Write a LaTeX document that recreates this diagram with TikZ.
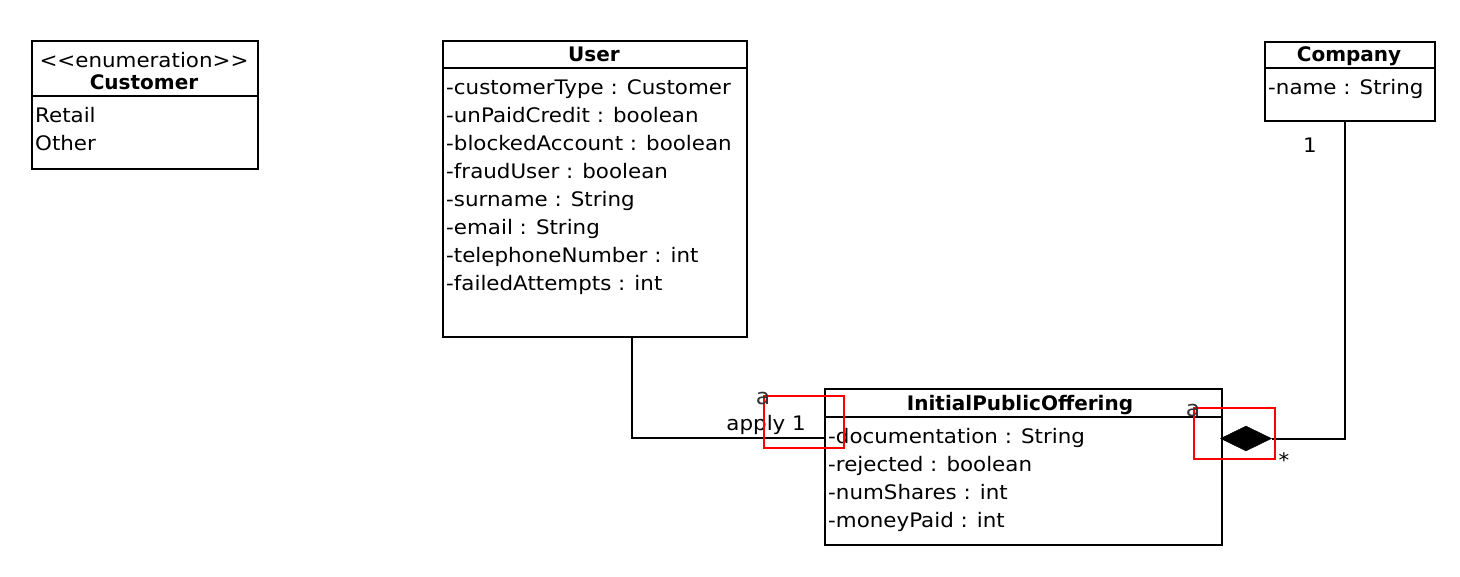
\documentclass[tikz,border=0pt]{standalone}
\usepackage{fontspec}
\setmainfont{DejaVu Sans}[UprightFeatures={FakeStretch=1.07}]
\usetikzlibrary{shapes.geometric}
\begin{document}
\begin{tikzpicture}[x=1pt,y=-1pt,
  box/.style={draw, line width=1.8pt, anchor=north west, inner sep=0pt},
  sep/.style={line width=1.8pt},
  txt/.style={anchor=base west, inner sep=0pt, font=\fontsize{20}{24}\selectfont},
  ttl/.style={anchor=base, inner sep=0pt, font=\fontsize{20}{24}\selectfont\bfseries},
  lbl/.style={inner sep=0pt, font=\fontsize{20}{24}\selectfont},
  conn/.style={line width=2pt},
  redbox/.style={draw=red, line width=1.6pt},
  amark/.style={inner sep=0pt, text=black!80, font=\fontsize{22}{24}\selectfont}
]
\useasboundingbox (0,0) rectangle (1460,576);

% Customer enumeration
\node[box, minimum width=226pt, minimum height=128pt] (cust) at (31,40) {};
\draw[sep] (31,96) -- (257,96);
\node[lbl, anchor=base] (custst) at (144,67) {{<}{<}enumeration{>}{>}};
\node[ttl] (custt) at (144,89) {Customer};
\node[txt] (c1) at (35,122) {Retail};
\node[txt] (c2) at (35,150) {Other};

% User
\node[box, minimum width=304pt, minimum height=296pt] (user) at (442,40) {};
\draw[sep] (442,68) -- (746,68);
\node[ttl] (usert) at (594,61) {User};
\node[txt] (u1) at (446,94) {-customerType : Customer};
\node[txt] (u2) at (446,122) {-unPaidCredit : boolean};
\node[txt] (u3) at (446,150) {-blockedAccount : boolean};
\node[txt] (u4) at (446,178) {-fraudUser : boolean};
\node[txt] (u5) at (446,206) {-surname : String};
\node[txt] (u6) at (446,234) {-email : String};
\node[txt] (u7) at (446,262) {-telephoneNumber : int};
\node[txt] (u8) at (446,290) {-failedAttempts : int};

% Company
\node[box, minimum width=170pt, minimum height=79pt] (comp) at (1264,41) {};
\draw[sep] (1264,68) -- (1434,68);
\node[ttl] (compt) at (1349,61) {Company};
\node[txt] (cp1) at (1268,94) {-name : String};

% InitialPublicOffering
\node[box, minimum width=397pt, minimum height=156pt] (ipo) at (824,388) {};
\draw[sep] (824,417) -- (1221,417);
\node[ttl] (ipot) at (1020,410) {InitialPublicOffering};
\node[txt] (i1) at (828,443) {-documentation : String};
\node[txt] (i2) at (828,471) {-rejected : boolean};
\node[txt] (i3) at (828,499) {-numShares : int};
\node[txt] (i4) at (828,527) {-moneyPaid : int};

% User -- IPO association
\coordinate (ua) at (632,336);
\coordinate (ia) at (824,438);
\draw[conn] (ua) |- (ia);
\node[lbl, anchor=base east] (apply) at (806,430) {apply 1};

% Company -- IPO composition
\node[diamond, fill=black, draw=black, inner sep=0pt, minimum width=51pt, minimum height=25pt] (dia) at (1246,438.5) {};
\coordinate (ca) at (1345,120);
\draw[conn] (dia.east) -| (ca);
\node[lbl, anchor=base] (one) at (1310,152) {1};
\node[lbl, anchor=base] (star) at (1284,467) {*};

% red markers
\draw[redbox] (764,396) rectangle (844,448);
\node[amark, anchor=base] (a1) at (763,404) {a};
\draw[redbox] (1194,408) rectangle (1275,459);
\node[amark, anchor=base] (a2) at (1193,416) {a};
\end{tikzpicture}
\end{document}
